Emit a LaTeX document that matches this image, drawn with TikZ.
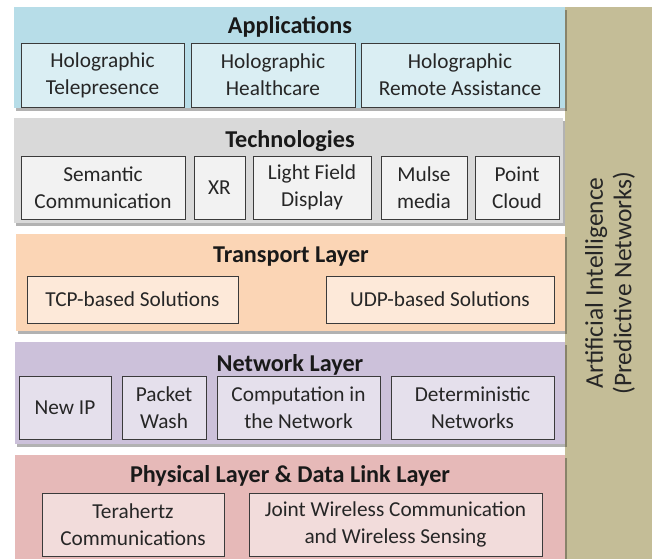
\documentclass[tikz,border=0pt]{standalone}
\usepackage{fontspec}
\setmainfont{Carlito}
\usetikzlibrary{shadows}
\definecolor{appbg}{HTML}{B7DDE8}
\definecolor{appbx}{HTML}{DAEEF3}
\definecolor{techbg}{HTML}{D9D9D9}
\definecolor{techbx}{HTML}{F2F2F2}
\definecolor{trbg}{HTML}{FBD5B5}
\definecolor{trbx}{HTML}{FDE9D9}
\definecolor{netbg}{HTML}{CCC1DA}
\definecolor{netbx}{HTML}{E5E0EC}
\definecolor{phybg}{HTML}{E6B9B8}
\definecolor{phybx}{HTML}{F2DCDB}
\definecolor{aibg}{HTML}{C4BD97}
\definecolor{edge}{HTML}{3A3A3A}
\newcommand{\bodyfs}{\fontsize{21.3}{27}\selectfont}
\newcommand{\titlefs}{\fontsize{24.2}{29}\selectfont}
\newcommand{\aifs}{\fontsize{25.5}{28.5}\selectfont}
\begin{document}
\begin{tikzpicture}[x=1pt,y=-1pt,
  layer/.style={inner sep=0, draw=none, drop shadow={shadow xshift=1.5pt, shadow yshift=-3pt, opacity=0.3, fill=black}},
  ltitle/.style={font=\titlefs\bfseries, text=black!90, anchor=base, inner sep=0},
  bx/.style={draw=edge, line width=0.8pt, inner sep=0, align=center, font=\bodyfs, text=black!85}]
\useasboundingbox (0,0) rectangle (656,559);
\fill[white] (0,0) rectangle (656,559);
% AI bar
\fill[aibg] (565,7) rectangle (652,559);
\node[rotate=90, align=center, font=\aifs, text=black!85, inner sep=0] (ai) at (610,283) {Artificial Intelligence\\(Predictive Networks)};
% layers
\path[layer, fill=appbg] (14,7) rectangle (565,108);
\path[layer, fill=techbg] (14,118) rectangle (563,223);
\path[layer, fill=trbg] (16,234) rectangle (565,331);
\path[layer, fill=netbg] (15,342) rectangle (565,444);
\path[layer, fill=phybg] (15,455) rectangle (565,562);
% titles
\node[ltitle] (tapp) at (290,34) {Applications};
\node[ltitle] (ttech) at (290,147) {Technologies};
\node[ltitle] (ttr) at (291,262) {Transport Layer};
\node[ltitle] (tnet) at (290,371) {Network Layer};
\node[ltitle] (tphy) at (290,482) {Physical Layer \& Data Link Layer};
% applications
\begin{scope}[every node/.append style={bx, fill=appbx, minimum height=64}]
\node[minimum width=163] (tele) at (102.5,75) {Holographic\\Telepresence};
\node[minimum width=164] (health) at (273,75) {Holographic\\Healthcare};
\node[minimum width=198] (remote) at (460,75) {Holographic\\Remote Assistance};
\end{scope}
% technologies
\begin{scope}[every node/.append style={bx, fill=techbx, minimum height=63}]
\node[minimum width=164] (sem) at (103,187.5) {Semantic\\Communication};
\node[minimum width=51] (xr) at (219.5,187.5) {XR};
\node[minimum width=118] (lfd) at (312,187.5) {Light Field\\Display};
\node[minimum width=86] (mulse) at (424,187.5) {Mulse\\media};
\node[minimum width=84] (pc) at (517,187.5) {Point\\Cloud};
\end{scope}
% transport
\begin{scope}[every node/.append style={bx, fill=trbx, minimum height=47}]
\node[minimum width=211] (tcp) at (132.5,299.5) {TCP-based Solutions};
\node[minimum width=228] (udp) at (440,299.5) {UDP-based Solutions};
\end{scope}
% network
\begin{scope}[every node/.append style={bx, fill=netbx, minimum height=63}]
\node[minimum width=92] (newip) at (65,407.5) {New IP};
\node[minimum width=84] (pw) at (164,407.5) {Packet\\Wash};
\node[minimum width=163] (comp) at (298.5,407.5) {Computation in\\the Network};
\node[minimum width=163] (det) at (472.5,407.5) {Deterministic\\Networks};
\end{scope}
% physical
\begin{scope}[every node/.append style={bx, fill=phybx, minimum height=63}]
\node[minimum width=182] (thz) at (133,524.5) {Terahertz\\Communications};
\node[minimum width=293] (joint) at (395.5,524.5) {Joint Wireless Communication\\and Wireless Sensing};
\end{scope}
\end{tikzpicture}
\end{document}
